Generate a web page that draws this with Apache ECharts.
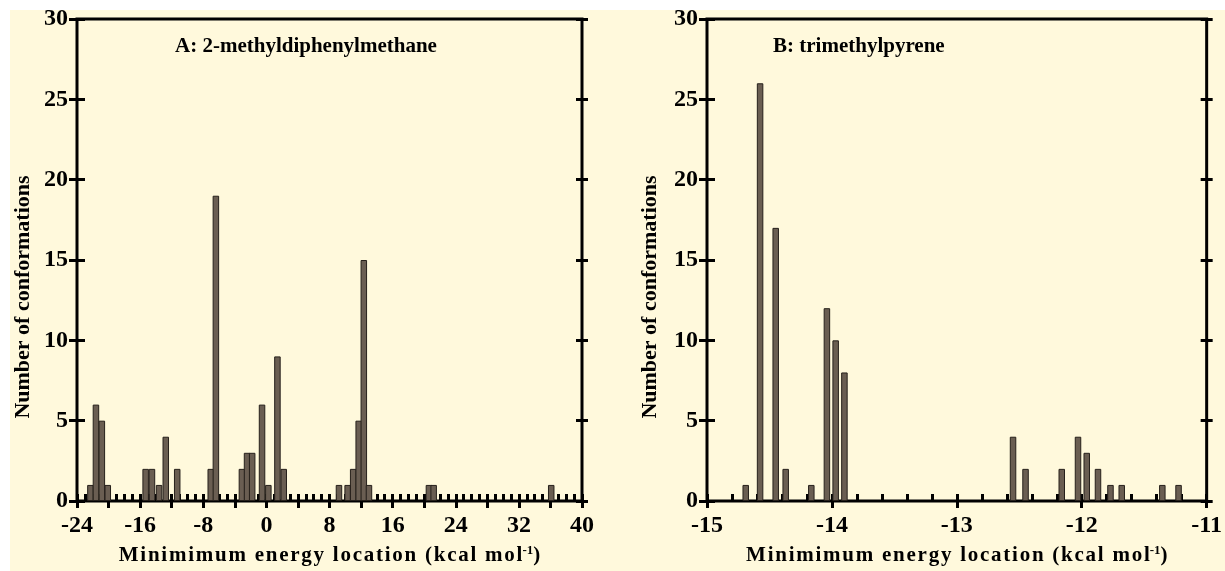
<!DOCTYPE html>
<html><head><meta charset="utf-8">
<script src="https://cdn.jsdelivr.net/npm/echarts@6/dist/echarts.min.js"></script>
<style>html,body{margin:0;padding:0;background:#fff}#c{width:1225px;height:571px}</style>
</head><body><div id="c"></div>
<script>
// Panel A: 2-methyldiphenylmethane
const energyA = [-22.3,-21.6,-20.85,-20.1,-15.3,-14.5,-13.6,-12.75,-11.3,-7.05,-6.4,-3.1,-2.45,-1.8,-0.55,0.25,1.4,2.2,9.2,10.3,11.0,11.7,12.35,13.0,20.6,21.2,36.1];
const countA  = [1,6,5,1,2,2,1,4,2,2,19,2,3,3,6,1,9,2,1,1,2,5,15,1,1,1,1];
// Panel B: trimethylpyrene
const energyB = [-14.69,-14.575,-14.45,-14.37,-14.165,-14.04,-13.97,-13.90,-12.55,-12.45,-12.16,-12.03,-11.96,-11.87,-11.77,-11.68,-11.355,-11.225];
const countB  = [1,26,17,2,1,12,10,8,4,2,2,4,3,2,1,1,1,1];
// axes
const xLabelsA = [-24,-16,-8,0,8,16,24,32,40];
const xLabelsB = [-15,-14,-13,-12,-11];
const yTicks = [0,5,10,15,20,25,30];
const titleA = 'A: 2-methyldiphenylmethane';
const titleB = 'B: trimethylpyrene';
const xTitleMain = 'Minimimum energy location (kcal mol';
const xTitleSup = '-1';
const xTitleEnd = ')';
const yTitle = 'Number of conformations';

const FONT = '"Liberation Serif","DejaVu Serif",serif';
const BLACK = '#000';
const spaced = s => s.split('').join('\u200A');
const xTitle = spaced(xTitleMain) + '{s|' + xTitleSup + '}' + xTitleEnd;

function xAxisFor(grid, labels, interval, minorSplit){
  return {
    gridIndex: grid, type:'value', position:'bottom',
    min: labels[0], max: labels[labels.length-1], interval: interval,
    offset: -7,
    axisLine:{show:false, onZero:false},
    axisTick:{show:true, length:14, lineStyle:{color:BLACK, width:3}},
    minorTick:{show:true, splitNumber:minorSplit, length:7, lineStyle:{color:BLACK, width:3}},
    splitLine:{show:false},
    axisLabel:{margin:20, color:BLACK, fontFamily:FONT, fontWeight:'bold', fontSize:24,
      formatter: v => labels.some(l => Math.abs(l - v) < 1e-6) ? String(Math.round(v)) : ''},
    name: xTitle, nameLocation:'middle', nameGap:50,
    nameTextStyle:{color:BLACK, fontFamily:FONT, fontWeight:'bold', fontSize:21,
      rich:{s:{fontFamily:FONT, fontWeight:'bold', fontSize:13, color:BLACK, padding:[0,0,10,0]}}}
  };
}
function yAxesFor(grid){
  return [{
    gridIndex: grid, type:'value', position:'left', min:yTicks[0], max:yTicks[yTicks.length-1], interval:5,
    offset:-8,
    axisLine:{show:false, onZero:false},
    axisTick:{show:true, length:16, lineStyle:{color:BLACK, width:3}},
    splitLine:{show:false},
    axisLabel:{margin:17, color:BLACK, fontFamily:FONT, fontWeight:'bold', fontSize:24}
  },{
    gridIndex: grid, type:'value', position:'right', min:yTicks[0], max:yTicks[yTicks.length-1], interval:5,
    offset:-6,
    axisLine:{show:false, onZero:false},
    axisTick:{show:true, length:12, lineStyle:{color:BLACK, width:3}},
    splitLine:{show:false},
    axisLabel:{show:false}
  }];
}
const barStyle = {color:'#6a5e52', borderColor:'#26201b', borderWidth:1};
const yTitleStyle = {text:yTitle, fill:BLACK, font:'bold 22px "Liberation Serif","DejaVu Serif",serif', textAlign:'center', textVerticalAlign:'middle'};

const chart = echarts.init(document.getElementById('c'), null, {renderer:'canvas'});
chart.setOption({
  animation:false,
  backgroundColor:'#fff',
  graphic:[
    {type:'rect', z:-10, shape:{x:10,y:10,width:1215,height:561}, style:{fill:'#fff9dc'}},
    {type:'text', x:23, y:297, rotation:Math.PI/2, style:yTitleStyle},
    {type:'text', x:650, y:297, rotation:Math.PI/2, style:yTitleStyle}
  ],
  title:[
    {text:titleA, left:170, top:31, textStyle:{color:BLACK, fontFamily:FONT, fontWeight:'bold', fontSize:21}},
    {text:titleB, left:768, top:31, textStyle:{color:BLACK, fontFamily:FONT, fontWeight:'bold', fontSize:21}}
  ],
  grid:[
    {left:77, right:643, top:19, bottom:66, show:true, borderColor:BLACK, borderWidth:3, backgroundColor:'transparent'},
    {left:707, right:15, top:19, bottom:66, show:true, borderColor:BLACK, borderWidth:3, backgroundColor:'transparent'}
  ],
  xAxis:[ xAxisFor(0, xLabelsA, 4, 4), xAxisFor(1, xLabelsB, 1, 5) ],
  yAxis:[ ...yAxesFor(0), ...yAxesFor(1) ],
  series:[
    {type:'bar', xAxisIndex:0, yAxisIndex:0, barWidth:6.5, itemStyle:barStyle,
     data: energyA.map((x,i)=>[x, countA[i]])},
    {type:'bar', xAxisIndex:1, yAxisIndex:2, barWidth:6.5, itemStyle:barStyle,
     data: energyB.map((x,i)=>[x, countB[i]])}
  ]
});
</script>
</body></html>
